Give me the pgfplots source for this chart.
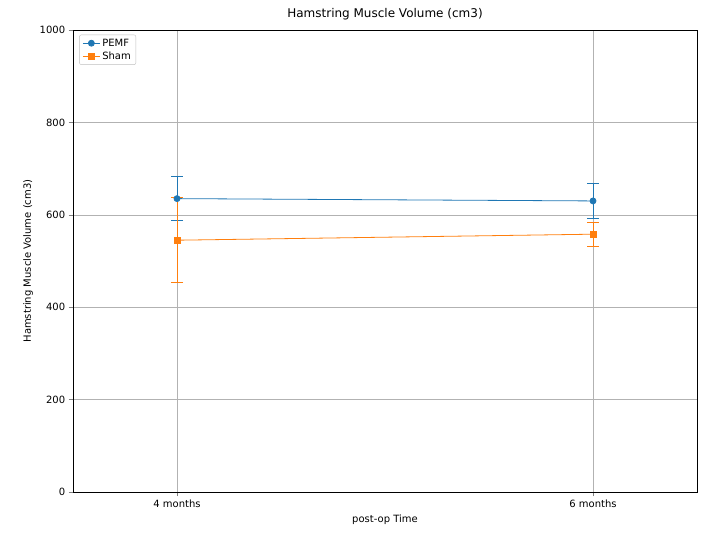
\documentclass[border=0pt]{standalone}
\usepackage{pgfplots}
\pgfplotsset{compat=1.18}
\usepackage{fontspec}
\setmainfont{DejaVu Sans}
\definecolor{c1}{HTML}{1F77B4}
\definecolor{c2}{HTML}{FF7F0E}
\begin{document}
\begin{tikzpicture}
\path (-73pt,-53pt) rectangle (631pt,492pt);
\begin{axis}[
  at={(0,0)}, anchor=south west,
  width=624pt, height=462pt, scale only axis,
  /pgf/number format/assume math mode=true,
  /pgf/number format/1000 sep={},
  font=\fontsize{10}{12}\selectfont,
  title style={font=\fontsize{12}{14}\selectfont},
  xmin=-0.25, xmax=1.25, ymin=0, ymax=1000,
  xtick={0,1}, xticklabels={4 months,6 months},
  ytick={0,200,...,1000},
  grid=major, grid style={gray!60},
  title={Hamstring Muscle Volume (cm3)},
  xlabel={post-op Time}, ylabel={Hamstring Muscle Volume (cm3)},
  legend pos=north west, legend cell align=left,
  legend style={draw=gray!50, rounded corners=2pt, at={(0.01,0.99)}},
  tick align=outside, tick pos=left,
]
\addplot[c1, thick, mark=*, mark size=3pt, error bars/.cd, y dir=both, y explicit, error bar style={c1, thick}, error mark options={rotate=90, mark size=6pt, c1, thick}]
  coordinates {(0,635) +- (0,48) (1,630) +- (0,38)};
\addlegendentry{PEMF}
\addplot[c2, thick, mark=square*, mark size=3pt, error bars/.cd, y dir=both, y explicit, error bar style={c2, thick}, error mark options={rotate=90, mark size=6pt, c2, thick}]
  coordinates {(0,545) +- (0,92) (1,558) +- (0,26)};
\addlegendentry{Sham}
\end{axis}
\end{tikzpicture}
\end{document}
